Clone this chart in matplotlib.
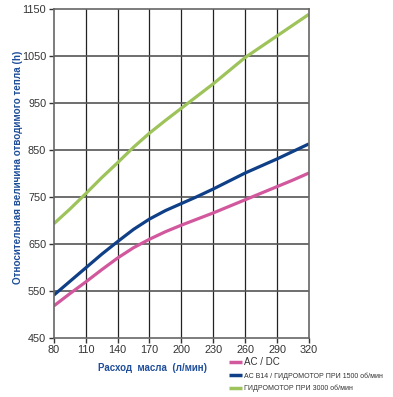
import matplotlib
matplotlib.use("Agg")
import matplotlib.pyplot as plt

flow = [80, 95, 110, 125, 140, 155, 170, 185, 200, 215, 230, 245, 260, 275, 290, 305, 320]
ac_dc = [518, 544, 569, 595, 620, 642, 660, 676, 690, 703, 716, 730, 744, 758, 772, 786, 801]
ac_b14 = [541, 570, 599, 628, 655, 681, 703, 721, 736, 751, 767, 784, 801, 816, 831, 847, 863]
hydro_3000 = [693, 724, 757, 791, 823, 856, 886, 913, 939, 965, 991, 1019, 1047, 1070, 1093, 1116, 1139]

labels = ["AC / DC",
          "AC B14 / ГИДРОМОТОР ПРИ 1500 об/мин",
          "ГИДРОМОТОР ПРИ 3000 об/мин"]
colors = ["#d2589e", "#0f3f86", "#9dc35a"]

plt.rcParams["font.family"] = ["Liberation Sans", "DejaVu Sans"]

fig = plt.figure(figsize=(3.93, 3.97), dpi=100)
ax = fig.add_axes([0.137, 0.149, 0.649, 0.828])

lines = []
for ys, c, lab in zip([ac_dc, ac_b14, hydro_3000], colors, labels):
    ln, = ax.plot(flow, ys, color=c, linewidth=2.3, label=lab, solid_capstyle="butt")
    lines.append(ln)

ax.set_xlim(80, 320)
ax.set_ylim(450, 1150)
ax.set_xticks(range(80, 321, 30))
ax.set_yticks(range(450, 1151, 100))
for x in range(110, 320, 30):
    ax.axvline(x, color="#222222", linewidth=0.9, zorder=0)
for y in range(550, 1150, 100):
    ax.axhline(y, color="#555555", linewidth=1.2, zorder=0)
for s in ax.spines.values():
    s.set_color("#666666")
    s.set_linewidth(1.2)
ax.tick_params(labelsize=7.8, colors="#333333", length=3.5, width=1, pad=2)

ax.set_xlabel("Расход  масла  (л/мин)", color="#1f4e9a", fontsize=7, fontweight="bold")
ax.xaxis.set_label_coords(0.385, -0.075)
ax.set_ylabel("Относительная величина отводимого тепла (h)", color="#1f4e9a",
              fontsize=7.1, fontweight="bold")
ax.yaxis.set_label_coords(-0.12, 0.52)

leg = fig.legend(handles=lines, loc="upper left", bbox_to_anchor=(0.575, 0.108),
                 frameon=False, fontsize=5, handlelength=1.9, handletextpad=0.3,
                 labelspacing=0.75, borderaxespad=0)
for t in leg.get_texts():
    t.set_color("#333333")
leg.get_texts()[0].set_fontsize(7)
for h in leg.legend_handles:
    h.set_linewidth(2.5)

fig.savefig("out.png", dpi=100)
